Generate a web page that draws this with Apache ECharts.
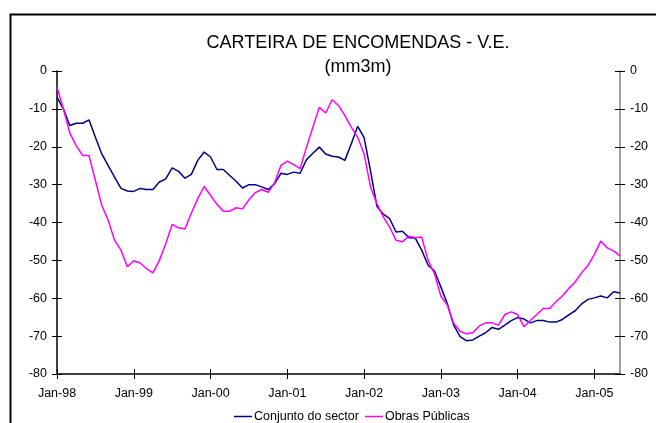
<!DOCTYPE html>
<html>
<head>
<meta charset="utf-8">
<script src="https://cdn.jsdelivr.net/npm/echarts@6/dist/echarts.min.js"></script>
<style>
html,body{margin:0;padding:0;background:#fff;}
#chart{width:656px;height:423px;}
</style>
</head>
<body>
<div id="chart"></div>
<script>
// Monthly categories Jan-98 .. May-05
var years = ['98','99','00','01','02','03','04','05'];
var months = ['Jan','Feb','Mar','Apr','May','Jun','Jul','Aug','Sep','Oct','Nov','Dec'];
var categories = [];
for (var y = 0; y < years.length; y++) {
  for (var m = 0; m < 12; m++) {
    if (y === years.length - 1 && m > 4) break;
    categories.push(months[m] + '-' + years[y]);
  }
}

var conjunto = [
  -6.9, -10, -14.4, -13.8, -13.8, -12.9, -17.5, -21.9, -25, -28, -31, -31.7,
  -31.8, -31, -31.3, -31.3, -29.3, -28.5, -25.6, -26.5, -28.3, -27.3, -23.6, -21.4,
  -22.7, -26, -26, -27.6, -29.1, -30.9, -30, -30, -30.6, -31.3, -29.8, -27,
  -27.3, -26.7, -27, -23.4, -21.7, -20.1, -21.9, -22.5, -22.7, -23.6, -19.2, -14.6,
  -17.6, -26.3, -35.7, -37.8, -39, -42.5, -42.3, -44, -44.1, -47.3, -51.3, -52.8,
  -57, -61.4, -67.1, -70.1, -71.2, -71, -70, -69.1, -67.7, -68.2, -67.1, -65.9,
  -65.1, -65.5, -66.5, -65.9, -65.9, -66.3, -66.3, -65.6, -64.4, -63.3, -61.5, -60.3,
  -59.9, -59.4, -59.9, -58.3, -58.6
];
var obras = [
  -4.3, -10, -16.4, -19.7, -22.3, -22.3, -28.9, -35.5, -39.4, -44.7, -47.3, -51.7,
  -50.1, -50.7, -52.2, -53.3, -50, -45.6, -40.5, -41.4, -41.7, -37.5, -33.7, -30.5,
  -32.8, -35.2, -37, -37, -36.1, -36.4, -34, -32.1, -31.3, -32, -29.6, -24.9,
  -23.8, -24.7, -25.8, -20.1, -14.8, -9.6, -11.1, -7.6, -9.1, -11.8, -14.8, -17.5,
  -21.9, -30.6, -35, -38.5, -41.2, -44.7, -45.1, -43.6, -44, -43.8, -50, -53.5,
  -59.4, -61.8, -66.6, -68.7, -69.4, -69.1, -67.3, -66.5, -66.5, -67.1, -64.3, -63.6,
  -64.3, -67.5, -65.8, -64.3, -62.7, -62.7, -60.9, -59.4, -57.4, -55.7, -53.3, -51.3,
  -48.4, -44.9, -46.7, -47.5, -48.8
];

var FONT = 'Liberation Sans, Arial, sans-serif';
var chart = echarts.init(document.getElementById('chart'), null, {renderer: 'canvas'});

function yAx(pos, inside, showLabel, lineColor, showLine) {
  return {
    type: 'value', position: pos, min: -80, max: 0, interval: 10,
    axisLine: {show: showLine, lineStyle: {color: lineColor, width: 1.5}},
    axisTick: {show: true, inside: inside, length: 5, lineStyle: {color: '#000', width: 1}},
    axisLabel: {show: showLabel, margin: 10, color: '#000', fontSize: 12.5, fontFamily: FONT},
    splitLine: {show: false}
  };
}
function xAx(inside, showLabel) {
  return {
    type: 'category', data: categories, boundaryGap: false, position: 'bottom',
    axisLine: {show: !inside, onZero: false, lineStyle: {color: '#000', width: 1.5}},
    axisTick: {show: true, inside: inside, length: 5, alignWithLabel: true,
      interval: function (i) { return i % 12 === 0; }, lineStyle: {color: '#000', width: 1}},
    axisLabel: {show: showLabel, margin: 13, color: '#000', fontSize: 12.5, fontFamily: FONT,
      interval: function (i) { return i % 12 === 0; }},
    splitLine: {show: false}
  };
}

chart.setOption({
  animation: false,
  backgroundColor: '#fff',
  title: {
    text: 'CARTEIRA DE ENCOMENDAS - V.E.\n(mm3m)',
    left: 353, top: 26, textAlign: 'center',
    textStyle: {fontSize: 18, fontWeight: 'normal', color: '#000', fontFamily: FONT, lineHeight: 24}
  },
  graphic: [{
    type: 'rect', left: 8, top: 12, silent: true,
    shape: {width: 700, height: 500},
    style: {fill: 'none', stroke: '#000', lineWidth: 2}
  }],
  legend: {
    left: 229, top: 405, icon: 'rect', itemWidth: 18, itemHeight: 1.5, itemGap: 6,
    textStyle: {fontSize: 12.5, color: '#000', fontFamily: FONT, padding: [0, 0, 0, -3]},
    data: ['Conjunto do sector', 'Obras Públicas']
  },
  grid: {left: 57, right: 36, top: 71, bottom: 49, containLabel: false},
  xAxis: [xAx(false, true), xAx(true, false)],
  yAxis: [
    yAx('left', false, true, '#000', true),
    yAx('right', false, true, '#808080', true),
    yAx('left', true, false, '#000', false),
    yAx('right', true, false, '#808080', false)
  ],
  series: [
    {name: 'Conjunto do sector', type: 'line', data: conjunto, xAxisIndex: 0, yAxisIndex: 0,
      showSymbol: false, symbol: 'none', lineStyle: {color: '#000080', width: 1.5}, itemStyle: {color: '#000080'}},
    {name: 'Obras Públicas', type: 'line', data: obras, xAxisIndex: 0, yAxisIndex: 0,
      showSymbol: false, symbol: 'none', lineStyle: {color: '#FF00FF', width: 1.5}, itemStyle: {color: '#FF00FF'}}
  ]
});
</script>
</body>
</html>
